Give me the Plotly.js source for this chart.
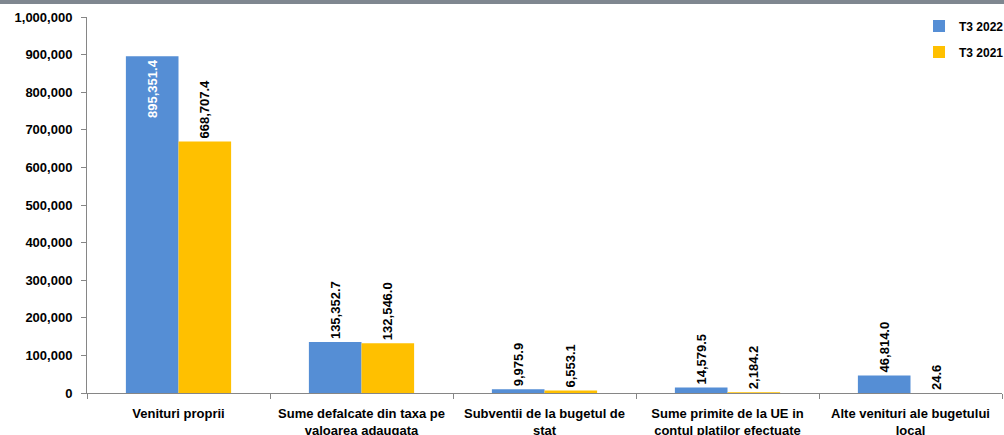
<!DOCTYPE html>
<html>
<head>
<meta charset="utf-8">
<script src="https://cdn.plot.ly/plotly-3.0.1.min.js"></script>
<style>
  html, body { margin: 0; padding: 0; background: #fff; overflow: hidden; width: 1004px; }
  #topbar { width: 1004px; height: 4px; background: #7f8790; }
  #chart { width: 1014px; height: 431px; }
</style>
</head>
<body>
<div id="topbar"></div>
<div id="chart"></div>
<script>
const categories = [
  "Venituri proprii",
  "Sume defalcate din taxa pe<br>valoarea adaugata",
  "Subventii de la bugetul de<br>stat",
  "Sume primite de la UE in<br>contul platilor efectuate",
  "Alte venituri ale bugetului<br>local"
];
const seriesNames = ["T3 2022", "T3 2021"];
const values2022 = [895351.4, 135352.7, 9975.9, 14579.5, 46814.0];
const values2021 = [668707.4, 132546.0, 6553.1, 2184.2, 24.6];
const yTickVals = [0, 100000, 200000, 300000, 400000, 500000, 600000, 700000, 800000, 900000, 1000000];
const yTickText = ["0", "100,000", "200,000", "300,000", "400,000", "500,000", "600,000", "700,000", "800,000", "900,000", "1,000,000"];

const FONT = "Liberation Sans, Arial, sans-serif";
const PADS = "\u00a0\u00a0";
const fmt = v => v.toLocaleString("en-US", { minimumFractionDigits: 1, maximumFractionDigits: 1 });

const t1 = {
  type: "bar",
  name: "<b>" + seriesNames[0] + "</b>",
  x: categories,
  y: values2022,
  marker: { color: "#558ED5" },
  text: values2022.map(fmt),
  texttemplate: ["<b>%{text}</b>", "<b>%{text}</b>" + PADS, "<b>%{text}</b>" + PADS, "<b>%{text}</b>" + PADS, "<b>%{text}</b>" + PADS],
  textangle: -90,
  textposition: ["inside", "outside", "outside", "outside", "outside"],
  insidetextanchor: "end",
  constraintext: "none",
  insidetextfont: { family: FONT, size: 13, color: "#ffffff" },
  outsidetextfont: { family: FONT, size: 13, color: "#000000" },
  cliponaxis: false,
  legend: "legend",
  hoverinfo: "none"
};
const t2 = {
  type: "bar",
  name: "<b>" + seriesNames[1] + "</b>",
  x: categories,
  y: values2021,
  marker: { color: "#FFC000" },
  text: values2021.map(fmt),
  texttemplate: "<b>%{text}</b>" + PADS,
  textangle: -90,
  textposition: "outside",
  constraintext: "none",
  outsidetextfont: { family: FONT, size: 13, color: "#000000" },
  cliponaxis: false,
  legend: "legend2",
  hoverinfo: "none"
};

const legendCommon = {
  xanchor: "left",
  yanchor: "middle",
  x: 0.9093,
  bgcolor: "rgba(0,0,0,0)",
  font: { family: FONT, size: 12, color: "#000" },
  itemclick: false,
  itemdoubleclick: false
};

const layout = {
  width: 1014,
  height: 431,
  margin: { l: 87, r: 12, t: 13, b: 42, autoexpand: false },
  paper_bgcolor: "#ffffff",
  plot_bgcolor: "#ffffff",
  font: { family: FONT, size: 12, color: "#000" },
  barmode: "group",
  bargap: 0.425,
  bargroupgap: 0,
  showlegend: true,
  legend: Object.assign({}, legendCommon, { y: 0.976 }),
  legend2: Object.assign({}, legendCommon, { y: 0.907 }),
  xaxis: {
    type: "category",
    showline: true,
    linecolor: "#868686",
    linewidth: 1,
    ticks: "outside",
    tickson: "boundaries",
    ticklen: 5,
    tickcolor: "#868686",
    showgrid: false,
    zeroline: false,
    tickfont: { family: FONT, size: 13, color: "#000" },
    ticklabelstandoff: 8,
    tickprefix: "<b>",
    ticksuffix: "</b>",
    automargin: false,
    fixedrange: true
  },
  yaxis: {
    range: [0, 1000000],
    tickvals: yTickVals,
    ticktext: yTickText.map(s => "<b>" + s + "</b>"),
    showline: true,
    linecolor: "#868686",
    linewidth: 1,
    ticks: "outside",
    ticklen: 5,
    tickcolor: "#868686",
    showgrid: false,
    zeroline: false,
    tickfont: { family: FONT, size: 13, color: "#000" },
    ticklabelstandoff: 6,
    automargin: false,
    fixedrange: true
  }
};

Plotly.newPlot("chart", [t1, t2], layout, { displayModeBar: false, staticPlot: true });
</script>
</body>
</html>
